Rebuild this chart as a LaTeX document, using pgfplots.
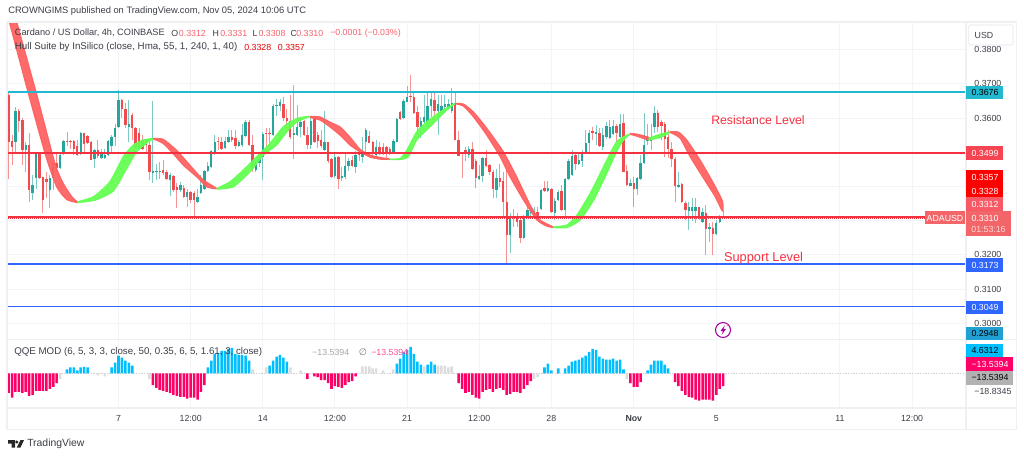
\documentclass[border=0pt]{standalone}
\usepackage{pgfplots}
\usepackage{pgfplotstable}
\usepackage{fontspec}
\setmainfont{Liberation Sans}
\newfontfamily\symb{DejaVu Sans}
\pgfplotsset{compat=1.18}
\pgfplotsset{band/.style={fill=#1,draw=#1,line width=.9pt,line join=round,opacity=.93,smooth,tension=.35}}
\definecolor{upc}{HTML}{26A69A}
\definecolor{dnc}{HTML}{F04B4F}
\definecolor{hullr}{HTML}{FF5F5F}
\definecolor{hullg}{HTML}{62FF50}
\definecolor{gridc}{HTML}{F3F4F7}
\definecolor{framec}{HTML}{EEF0F4}
\definecolor{txt}{HTML}{3A3D46}
\definecolor{cyanl}{HTML}{22B8D0}
\definecolor{redl}{HTML}{F5303F}
\definecolor{bluel}{HTML}{2F66FF}
\definecolor{qpink}{HTML}{FF0066}
\definecolor{qblue}{HTML}{00BFFF}
\definecolor{qgray}{HTML}{DCDCDC}
\definecolor{pale}{HTML}{F7606A}
% price x 10000 ; i = 4h candle number
\pgfplotstableread{
i o c h l
2 3531 3620 3633 3501
5 3506 3521 3531 3443
7 3380 3404 3433 3360
8 3425 3494 3497 3394
12 3389 3425 3433 3336
13 3425 3470 3470 3389
15 3453 3492 3497 3451
16 3494 3534 3536 3492
21 3494 3557 3558 3492
25 3480 3506 3509 3455
27 3482 3494 3509 3480
28 3484 3492 3511 3480
29 3492 3533 3536 3490
30 3519 3545 3550 3501
31 3545 3572 3584 3519
32 3575 3653 3682 3572
35 3575 3584 3653 3531
42 3440 3445 3651 3409
43 3443 3446 3467 3419
44 3444 3446 3472 3423
47 3419 3433 3438 3372
50 3391 3404 3414 3384
52 3370 3383 3392 3339
55 3355 3370 3394 3353
56 3380 3404 3433 3378
57 3394 3445 3448 3389
58 3445 3460 3472 3441
59 3458 3504 3506 3455
60 3497 3531 3550 3492
63 3513 3533 3545 3511
64 3531 3545 3565 3529
67 3519 3529 3536 3516
68 3521 3552 3584 3516
69 3548 3589 3594 3545
72 3448 3472 3477 3441
73 3470 3484 3501 3458
74 3487 3553 3560 3419
77 3552 3636 3640 3550
78 3636 3638 3655 3607
79 3636 3648 3655 3620
83 3550 3555 3697 3480
84 3550 3575 3638 3548
85 3575 3589 3599 3545
88 3521 3591 3604 3511
92 3506 3529 3620 3504
95 3431 3487 3494 3425
97 3425 3431 3458 3415
98 3428 3460 3497 3421
99 3460 3474 3484 3445
101 3458 3492 3503 3438
103 3487 3501 3545 3470
104 3531 3565 3570 3492
107 3492 3516 3536 3489
112 3497 3533 3538 3495
113 3531 3596 3599 3531
115 3599 3651 3655 3597
116 3648 3662 3694 3648
120 3573 3592 3604 3541
121 3589 3604 3667 3586
122 3589 3635 3677 3584
123 3635 3655 3677 3604
125 3621 3641 3667 3550
126 3621 3635 3667 3616
127 3631 3641 3667 3623
128 3631 3641 3657 3623
129 3621 3643 3687 3616
134 3492 3509 3518 3482
137 3421 3432 3463 3419
138 3430 3482 3485 3414
142 3391 3426 3450 3365
146 3258 3313 3321 3206
147 3309 3315 3333 3282
150 3248 3313 3316 3245
151 3313 3331 3345 3311
152 3321 3331 3339 3309
153 3316 3329 3339 3309
155 3333 3389 3394 3331
157 3387 3395 3417 3384
159 3323 3358 3365 3302
160 3360 3385 3391 3358
162 3331 3422 3426 3313
163 3421 3475 3479 3419
164 3433 3490 3506 3430
166 3465 3477 3495 3463
167 3475 3501 3506 3456
168 3501 3528 3565 3497
169 3526 3557 3565 3495
171 3553 3560 3580 3521
173 3516 3550 3570 3506
174 3545 3577 3589 3540
175 3543 3575 3594 3540
176 3553 3577 3594 3550
178 3545 3584 3612 3543
181 3401 3409 3423 3401
183 3394 3424 3428 3375
184 3421 3469 3492 3419
185 3469 3521 3614 3467
186 3534 3545 3584 3521
187 3534 3545 3584 3506
188 3575 3614 3635 3555
195 3399 3405 3443 3397
198 3329 3339 3355 3272
199 3329 3339 3365 3300
200 3329 3339 3365 3292
202 3297 3324 3336 3292
204 3277 3282 3294 3238
206 3260 3294 3302 3258
207 3295 3311 3316 3292
}\upcandles
\pgfplotstableread{
i o c h l
0 3667 3531 3677 3423
1 3533 3516 3550 3462
3 3620 3591 3626 3560
4 3594 3506 3599 3462
6 3521 3389 3555 3355
9 3494 3425 3501 3423
10 3428 3360 3428 3321
11 3423 3414 3441 3365
14 3470 3453 3497 3441
17 3534 3529 3560 3519
18 3533 3529 3536 3511
19 3533 3511 3536 3492
20 3518 3492 3536 3489
22 3555 3523 3555 3501
23 3548 3526 3552 3523
24 3531 3477 3533 3477
26 3506 3490 3536 3482
33 3653 3626 3657 3599
34 3626 3581 3643 3570
36 3609 3570 3614 3536
37 3572 3516 3575 3511
38 3557 3511 3570 3506
39 3536 3511 3550 3506
40 3536 3521 3540 3501
41 3521 3441 3531 3419
45 3449 3439 3477 3435
46 3441 3421 3448 3419
48 3431 3391 3433 3383
49 3399 3389 3409 3338
51 3397 3370 3404 3365
53 3384 3360 3386 3353
54 3382 3360 3386 3314
61 3533 3529 3545 3506
62 3531 3511 3545 3508
65 3545 3536 3565 3531
66 3542 3519 3565 3511
70 3589 3521 3594 3519
71 3521 3453 3550 3443
75 3556 3553 3572 3501
76 3556 3553 3570 3503
80 3641 3599 3662 3591
81 3601 3591 3628 3565
82 3591 3545 3667 3540
86 3591 3550 3594 3548
87 3550 3521 3575 3511
89 3604 3531 3607 3526
90 3550 3533 3560 3513
91 3536 3519 3565 3513
93 3529 3474 3531 3469
94 3480 3428 3484 3425
96 3487 3423 3490 3394
100 3476 3460 3490 3458
102 3499 3492 3506 3474
105 3548 3528 3563 3528
106 3531 3495 3533 3492
108 3516 3495 3531 3492
109 3516 3497 3526 3492
110 3514 3495 3518 3479
111 3511 3499 3516 3492
114 3618 3597 3621 3595
117 3666 3662 3726 3648
118 3662 3616 3674 3613
119 3618 3573 3635 3545
124 3653 3621 3672 3594
130 3643 3537 3677 3537
131 3536 3489 3563 3489
132 3499 3495 3501 3424
133 3506 3497 3516 3475
135 3509 3450 3531 3448
136 3475 3424 3479 3397
139 3482 3460 3506 3458
140 3463 3443 3467 3433
141 3443 3394 3448 3365
143 3426 3414 3467 3399
144 3417 3355 3443 3311
145 3355 3258 3448 3175
148 3313 3297 3321 3282
149 3302 3248 3307 3235
154 3325 3313 3339 3309
156 3395 3387 3417 3384
158 3394 3326 3397 3323
161 3387 3331 3404 3329
165 3492 3467 3495 3448
170 3563 3557 3575 3536
172 3555 3518 3570 3516
177 3577 3557 3584 3531
179 3586 3443 3612 3443
180 3445 3404 3462 3401
182 3409 3394 3428 3339
189 3616 3575 3625 3560
190 3589 3577 3594 3536
191 3584 3540 3589 3487
192 3545 3511 3565 3482
193 3511 3480 3531 3458
194 3480 3401 3487 3355
196 3406 3355 3409 3352
197 3353 3331 3358 3302
201 3339 3309 3341 3303
203 3321 3277 3345 3199
205 3279 3261 3297 3199
208 3312 3310 3331 3308
}\dncandles
\pgfplotstableread{
i v
0 -20
1 -25
2 -19
3 -19
4 -20
5 -19
6 -23
7 -22
8 -18
9 -18
10 -18
11 -18
12 -16
13 -14
14 -10
42 -12
43 -15
44 -17
45 -18
46 -19
47 -20
48 -22
49 -23
50 -24
51 -24
52 -26
53 -25
54 -25
55 -27
56 -19
57 -12
87 -6
89 -3
90 -4
91 -7
92 -7
93 -10
94 -16
95 -13
96 -14
97 -15
98 -12
99 -9
100 -8
101 -3
131 -10
132 -16
133 -20
134 -19
135 -22
136 -25
137 -26
138 -19
139 -17
140 -16
141 -19
142 -16
143 -15
144 -17
145 -22
146 -21
147 -19
148 -19
149 -20
150 -16
151 -12
152 -8
181 -10
182 -14
183 -14
184 -9
194 -9
195 -13
196 -18
197 -22
198 -24
199 -25
200 -27
201 -28
202 -27
203 -27
204 -27
205 -28
206 -22
207 -16
208 -13
}\qqepink
\pgfplotstableread{
i v
17 4
18 6
19 6
20 3
21 6
22 6.5
23 6
30 6
31 11
32 18
33 16
34 13
35 11
36 8
58 6
59 13
60 20
61 21
62 23
63 23
64 25
65 26
66 20
67 19
68 19
69 18
70 13
76 8
77 13
78 17
79 19
80 16
81 12
113 10
114 15
115 22
116 24
117 27
118 20
119 12
120 9
122 9
123 12
124 9
156 6
157 10
158 3
160 5
162 5
163 8
164 12
165 13
166 14
167 16
168 18
169 22
170 25
171 24
172 17
173 15
174 14
175 14
176 15
177 13
178 14
179 4
186 3
187 9
188 13
189 13
190 13
191 9
192 5
}\qqeblue
\pgfplotstableread{
i v
15 -6
26 -2
28 -3
41 -6
71 4
75 6
82 6
85 3
103 7
104 7
105 7
106 5
107 5
109 3
112 4
121 7
125 8
126 8
127 8
128 6
129 7
153 -6
154 -4
180 -6
}\qqegray
\begin{document}
\begin{tikzpicture}
\path[use as bounding box] (0,0) rectangle (768pt,343.5pt);
% price pane
\begin{axis}[
  at={(6pt,88.5pt)},anchor=south west,scale only axis,width=718.5pt,height=238.5pt,
  xmin=-0.17,xmax=278.7,ymin=2951,ymax=3881,
  axis line style={draw=none},major tick length=0pt,
  xtick={32,53,74,95,116,137,158,182,206,242,263},xticklabels={},
  ytick={3000,3100,3200,3300,3400,3500,3600,3700,3800},
  yticklabels={0.3000,0.3100,0.3200,,,,0.3600,0.3700,0.3800},
  yticklabel pos=right,
  yticklabel style={anchor=west,xshift=2.8pt,font=\fontsize{6.6}{8}\selectfont,text=txt},
  xmajorgrids,ymajorgrids,grid style={gridc,line width=.7pt},
]
\addplot[draw=none,mark=none,error bars/.cd,y dir=both,y explicit,error mark=none,error bar style={draw=upc,line width=.7pt,opacity=.6}]
  table[x=i,y=o,y error plus expr=\thisrow{h}-\thisrow{o},y error minus expr=\thisrow{o}-\thisrow{l}] {\upcandles};
\addplot[draw=none,mark=none,error bars/.cd,y dir=both,y explicit,error mark=none,error bar style={draw=dnc,line width=.7pt,opacity=.6}]
  table[x=i,y=o,y error plus expr=\thisrow{h}-\thisrow{o},y error minus expr=\thisrow{o}-\thisrow{l}] {\dncandles};
\addplot[draw=none,mark=none,error bars/.cd,y dir=plus,y explicit,error mark=none,error bar style={draw=upc,line width=1.8pt}]
  table[x=i,y=o,y error plus expr=\thisrow{c}-\thisrow{o}] {\upcandles};
\addplot[draw=none,mark=none,error bars/.cd,y dir=minus,y explicit,error mark=none,error bar style={draw=dnc,line width=1.8pt}]
  table[x=i,y=o,y error minus expr=\thisrow{o}-\thisrow{c}] {\dncandles};
% Hull band
\addplot[band=hullr] coordinates {(0.2,3882)(6.04,3662)(10.9,3487)(14,3399)(16.9,3362)(20,3353)(20,3355)(18.4,3370)(15.9,3409)(13.5,3467)(8.37,3662)(2.35,3882)};
\addplot[band=hullg] coordinates {(20,3355)(24.7,3370)(29.5,3414)(33.4,3487)(36.3,3521)(39.2,3536)(42.1,3540)(40.7,3531)(39.2,3519)(37.3,3502)(34.4,3453)(30.5,3387)(25.2,3360)(20,3353)};
\addplot[band=hullr] coordinates {(42.1,3540)(45,3538)(48.9,3506)(52.8,3462)(56.7,3419)(60.6,3394)(57.7,3399)(54.8,3428)(50.9,3462)(48,3495)(45,3526)(42.1,3539)};
\addplot[band=hullg] coordinates {(60.6,3394)(64.5,3414)(68.3,3448)(72.2,3487)(76.1,3526)(80,3575)(83.9,3599)(87.7,3605)(83.9,3589)(81,3560)(78,3521)(74.2,3492)(70.3,3443)(65.4,3399)(60.6,3392)};
\addplot[band=hullr] coordinates {(87.7,3605)(90.7,3603)(93.6,3588)(96.5,3574)(99.4,3544)(102.3,3509)(105.2,3492)(108.1,3485)(111,3480)(108.1,3480)(105.2,3486)(102.3,3501)(99.4,3521)(96.5,3550)(93.6,3574)(90.7,3594)(87.7,3602)};
\addplot[band=hullg] coordinates {(111,3480)(114,3482)(115.9,3506)(118.8,3560)(121.7,3589)(125.6,3618)(130,3643)(127.5,3623)(124.6,3594)(121.7,3565)(118.8,3536)(116.4,3487)(114,3479)(111,3479)};
\addplot[band=hullr] coordinates {(130,3643)(132.4,3641)(135.3,3618)(139.2,3570)(144,3502)(147.9,3428)(151.8,3346)(154.7,3302)(158.6,3281)(156.7,3284)(153.8,3302)(149.9,3360)(146,3428)(143.1,3487)(139.2,3550)(135.3,3604)(132.4,3635)(130,3642)};
\addplot[band=hullg] coordinates {(158.6,3282)(162.5,3287)(165.4,3316)(169.3,3380)(173.2,3458)(177,3531)(180.9,3554)(179,3536)(177,3502)(174.1,3438)(170.3,3360)(166.4,3302)(162.5,3280)(158.6,3280)};
\addplot[band=hullr] coordinates {(180.9,3555)(182.9,3553)(186.3,3544)(186.3,3536)(182.9,3547)(180.9,3553)};
\addplot[band=hullg] coordinates {(186.3,3541)(189.7,3553)(192.6,3560)(192.6,3558)(189.7,3543)(186.3,3536)};
\addplot[band=hullr] coordinates {(192.6,3560)(195,3559)(197.4,3536)(201.3,3477)(205.2,3409)(207.8,3357)(207.8,3328)(205.7,3370)(202.3,3424)(198.4,3487)(195.5,3541)(192.6,3558)};
% horizontal levels
\addplot[cyanl,line width=1.4pt] coordinates {(-0.17,3676)(278.7,3676)};
\addplot[redl,line width=1.4pt] coordinates {(-0.17,3499)(278.7,3499)};
\addplot[redl,line width=.9pt] coordinates {(-0.17,3311)(278.7,3311)};
\addplot[redl,line width=.75pt,dash pattern=on .75pt off .75pt] coordinates {(-0.17,3305)(278.7,3305)};
\addplot[bluel,line width=1.4pt] coordinates {(-0.17,3173)(278.7,3173)};
\addplot[bluel,line width=1.4pt] coordinates {(-0.17,3049)(278.7,3049)};
\end{axis}
% QQE pane
\begin{axis}[
  at={(6pt,37.5pt)},anchor=south west,scale only axis,width=718.5pt,height=51pt,
  xmin=-0.17,xmax=278.7,ymin=-35.5,ymax=34.1,
  axis line style={draw=none},major tick length=0pt,
  xtick={32,53,74,95,116,137,158,182,206,242,263},
  xticklabels={7,12:00,14,12:00,21,12:00,28,\textbf{Nov},5,11,12:00},
  xticklabel style={anchor=center,yshift=-7.8pt,font=\fontsize{6.6}{8}\selectfont,text=txt},
  ytick={-18.8345},yticklabels={−18.8345},
  yticklabel pos=right,
  yticklabel style={anchor=west,xshift=2.8pt,font=\fontsize{6.6}{8}\selectfont,text=txt},
  xmajorgrids,grid style={gridc,line width=.7pt},
]
\addplot[framec!70!gray,line width=.4pt,dash pattern=on 1pt off 1pt] coordinates {(-0.17,0)(278.7,0)};
\addplot[ybar,bar width=1.9pt,bar shift=0pt,fill=qpink,draw=none] table[x=i,y=v] {\qqepink};
\addplot[ybar,bar width=1.9pt,bar shift=0pt,fill=qblue,draw=none] table[x=i,y=v] {\qqeblue};
\addplot[ybar,bar width=1.9pt,bar shift=0pt,fill=qgray,draw=none] table[x=i,y=v] {\qqegray};
\end{axis}
% overlay in image pixels
\begin{scope}[x=.75pt,y=-.75pt,yshift=343.5pt]
\tikzset{sm/.style={font=\fontsize{6.6}{8}\selectfont,inner sep=0pt,anchor=center},
 lft/.style={font=\fontsize{6.6}{8}\selectfont,inner sep=0pt,anchor=west},
 leg/.style={font=\fontsize{7.3}{9}\selectfont,inner sep=0pt,anchor=west}}
% frame
\draw[framec,line width=1.1pt] (7,22) rectangle (1016.5,429.5);
\draw[framec,line width=1.1pt] (7,339.5) -- (1016.5,339.5);
\draw[framec,line width=1.1pt] (7,408) -- (1016.5,408);
\draw[framec,line width=1.1pt] (966,22) -- (966,429.5);
% header
\node[anchor=west,inner sep=0pt,text=txt,font=\fontsize{7}{9}\selectfont] at (8,11.5) {CROWNGIMS published on TradingView.com, Nov 05, 2024 10:06 UTC};
\node[lft,text=txt,font=\fontsize{6.9}{8}\selectfont] at (14.7,33) {Cardano / US Dollar, 4h, COINBASE};
\node[lft,text=txt] at (171,33) {O};
\node[lft,text=pale] at (178.7,33) {0.3312};
\node[lft,text=txt] at (212.3,33) {H};
\node[lft,text=pale] at (220,33) {0.3331};
\node[lft,text=txt] at (252.3,33) {L};
\node[lft,text=pale] at (258.3,33) {0.3308};
\node[lft,text=txt] at (290.3,33) {C};
\node[lft,text=pale] at (296,33) {0.3310};
\node[lft,text=pale] at (330,33) {−0.0001 (−0.03\%)};
\node[leg,text=txt] at (14.7,47) {Hull Suite by InSilico (close, Hma, 55, 1, 240, 1, 40)};
\node[lft,text=red!90!black] at (244,47) {0.3328};
\node[lft,text=red!90!black] at (277.7,47) {0.3357};
\node[anchor=center,inner sep=0pt,text=redl,font=\fontsize{9.2}{11}\selectfont] at (758,120.5) {Resistance Level};
\node[anchor=center,inner sep=0pt,text=redl,font=\fontsize{9.6}{11}\selectfont] at (763.5,258.5) {Support Level};
\node[leg,text=txt] at (14,352) {QQE MOD (6, 5, 3, 3, close, 50, 0.35, 6, 5, 1.61, 3, close)};
\node[lft,text=black!35] at (312,352) {−13.5394};
\node[lft,text=black!50,font=\symb\fontsize{7}{8}\selectfont] at (358.5,352) {∅};
\node[lft,text=qpink!70] at (371,352) {−13.5394};
% purple icon
\draw[violet!70!magenta,line width=.8pt] (723,330) circle (7.5);
\fill[violet!70!magenta] (725,325) -- (720.5,331) -- (723,331) -- (721.5,335) -- (726,329) -- (723.5,329) -- cycle;
\fill[orange] (727.5,325) circle (1);
% right scale
\fill[white] (966.6,22.6) rectangle (1016,45);
\draw[framec,line width=.8pt,fill=white,rounded corners=1.5pt] (968.5,25) rectangle (1013,45);
\node[sm,text=txt] at (984,35) {USD};
\fill[cyanl] (966,86) rectangle (1003.3,99.3); \node[sm,text=black] at (985,92.7) {0.3676};
\fill[redl!90!white] (966,146) rectangle (1003.3,159.5); \node[sm,text=white] at (985,153) {0.3499};
\fill[red] (966,170) rectangle (1003.3,197.3);
\node[sm,text=white] at (985,177) {0.3357};
\node[sm,text=white] at (985,191) {0.3328};
\fill[redl!80!white] (966,197.3) rectangle (1003.3,211); \node[sm,text=white] at (985,204) {0.3312};
\fill[dnc!85!white] (925,211) rectangle (965,224.3); \node[sm,text=white] at (945,218) {ADAUSD};
\fill[dnc!85!white] (966,211) rectangle (1011,236); \node[sm,text=white] at (985,218) {0.3310};
\node[sm,text=white!80!dnc] at (988.5,229) {01:53:16};
\fill[bluel] (966,258) rectangle (1003.3,272); \node[sm,text=white] at (985,265) {0.3173};
\fill[bluel] (966,300.8) rectangle (1003.3,314.3); \node[sm,text=white] at (985,307.5) {0.3049};
\fill[cyan!70!teal] (966,327) rectangle (1003.3,339.5); \node[sm,text=black] at (985,333.5) {0.2948};
\fill[qblue] (966,344) rectangle (1003.3,357); \node[sm,text=black] at (985,350.7) {4.6312};
\fill[qpink] (966,357) rectangle (1013,371); \node[sm,text=white] at (990,364) {−13.5394};
\fill[black!30!white] (966,371) rectangle (1013,385); \node[sm,text=black] at (990,377.7) {−13.5394};
% logo
\fill[black!85] (8,440) -- (15,440) -- (15,447.5) -- (11.5,447.5) -- (11.5,443.5) -- (8,443.5) -- cycle;
\fill[black!85] (16.8,442) circle (1.7);
\fill[black!85] (20.5,440) -- (24,440) -- (20.5,447.5) -- (16.8,447.5) -- cycle;
\node[anchor=west,inner sep=0pt,text=txt,font=\fontsize{7.8}{9}\selectfont] at (27,444) {TradingView};
\end{scope}
\end{tikzpicture}
\end{document}
